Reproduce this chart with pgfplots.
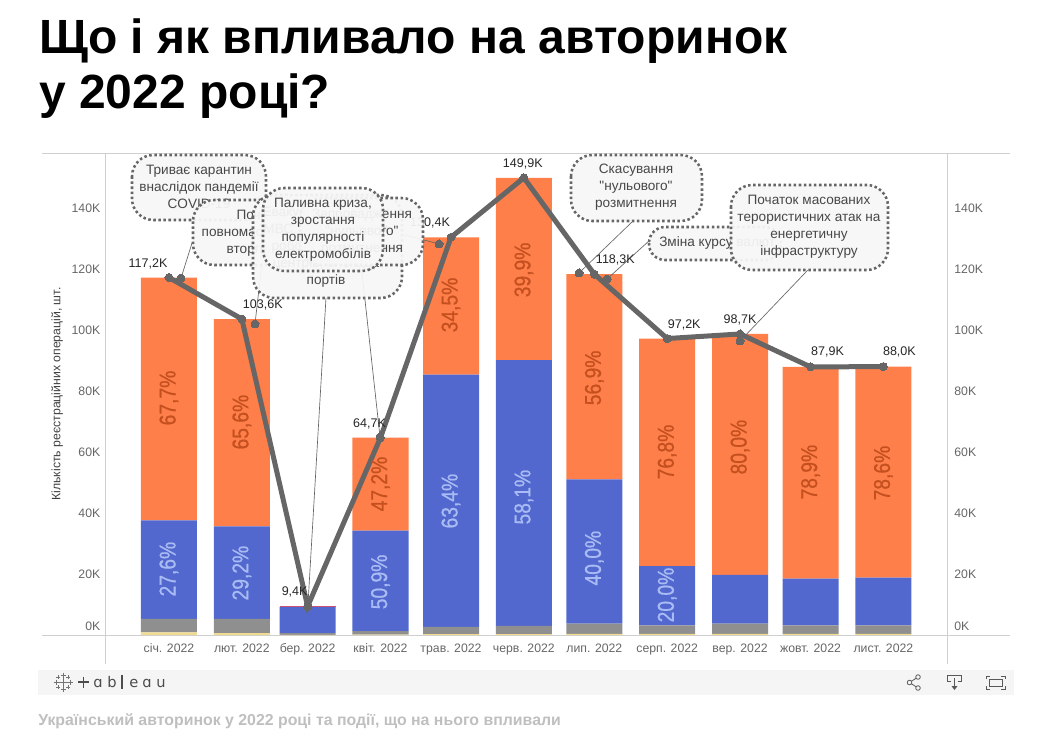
\documentclass[border=0pt]{standalone}
\usepackage{fontspec}
\usepackage{pgfplots}
\usepackage{pgfplotstable}
\pgfplotsset{compat=1.18}
\setmainfont{Liberation Sans}
\newfontfamily\pctfont[FakeStretch=0.84,FakeBold=0.7]{Liberation Sans}
\newfontfamily\calloutfont[Ligatures=ResetAll]{Liberation Sans}
\newfontfamily\logofont{DejaVu Sans}

\definecolor{cOrange}{HTML}{FF7F4A}
\definecolor{cBlue}{HTML}{5268CE}
\definecolor{cGray}{HTML}{8F8F8F}
\definecolor{cYellow}{HTML}{EFDC92}
\definecolor{cRed}{HTML}{D9506A}
\definecolor{cLine}{HTML}{666666}
\definecolor{cRule}{HTML}{CFCFCF}
\definecolor{cTick}{HTML}{666666}
\definecolor{cPctOrange}{HTML}{C4501F}
\definecolor{cPctBlue}{HTML}{A9BBF4}

% values in thousands, x = days from 1 January (the axis is a time axis)
\pgfplotstableread{
x   yellow gray blue orange red
0   0.9 4.4 32.3 79.6 0
31  0.6 4.7 30.3 68.0 0
59  0.05 0.55 8.65 0 0.15
90  0.1 1.2 32.9 30.5 0
120 0.3 2.4 82.7 45.0 0
151 0.3 2.7 87.1 59.8 0
181 0.4 3.3 47.3 67.3 0
212 0.4 2.8 19.4 74.6 0
243 0.4 3.3 16.0 79.0 0
273 0.4 2.8 15.3 69.4 0
304 0.4 2.8 15.6 69.2 0
}\bardata

\pgfplotstableread{
x   y    lbl
0   77.7 67,7
31  69.8 65,6
90  49.5 47,2
120 108.2 34,5
151 119.7 39,9
181 84.3 56,9
212 60.0 76,8
243 61.6 80,0
273 53.4 78,9
304 53.1 78,6
}\pctorange

\pgfplotstableread{
x   y    lbl
0   21.6 27,6
31  20.3 29,2
90  17.4 50,9
120 43.9 63,4
151 45.2 58,1
181 25.2 40,0
212 13.1 20,0
}\pctblue

\pgfplotsset{
  base/.style={
    scale only axis, width=631.5pt, height=361.5pt,
    at={(78.75pt,-476.25pt)}, anchor=south west,
    xmin=-27.23, xmax=331.06, ymin=0, ymax=158.03,
    clip=false, axis line style={draw=none},
    major tick length=0pt,
    ytick={20,40,...,140},
    yticklabels={20K,40K,60K,80K,100K,120K,140K},
    extra y ticks={0}, extra y tick labels={0K},
    ticklabel style={font=\fontsize{9.2}{11}\selectfont, text=cTick},
  },
  pct/.style={draw=none, mark=none, nodes near coords={\pgfplotspointmeta\%},
    point meta=explicit symbolic,
    nodes near coords style={anchor=center, rotate=90,
      font=\pctfont\fontsize{17.2}{18}\selectfont, text=#1}},
  leader/.style={draw=cLine, line width=.5pt, mark=none, forget plot},
}

\begin{document}
\begin{tikzpicture}
\begin{scope}[x=.75pt,y=-.75pt]
  \useasboundingbox (0,0) rectangle (1050,744);
  \node[anchor=base west,inner sep=0,font=\fontsize{36}{38}\selectfont\bfseries] at (39,53) {Що і як впливало на авторинок};
  \node[anchor=base west,inner sep=0,font=\fontsize{36}{38}\selectfont\bfseries] at (39,108) {у 2022 році?};
  % chart frame
  \draw[cRule,line width=.75pt] (42,153.5)--(1010,153.5);
  \draw[cRule,line width=.75pt] (42,635)--(1010,635);
  \draw[cRule,line width=.75pt] (105.5,153.5)--(105.5,664);
  \draw[cRule,line width=.75pt] (947,153.5)--(947,664);
\end{scope}

\begin{axis}[base, ybar stacked, bar width=42pt,
    xtick={0,31,59,90,120,151,181,212,243,273,304},
    xticklabels={січ. 2022,лют. 2022,бер. 2022,квіт. 2022,трав. 2022,черв. 2022,лип. 2022,серп. 2022,вер. 2022,жовт. 2022,лист. 2022},
    xticklabel style={anchor=base,yshift=-12.75pt},
    yticklabel style={anchor=east,xshift=0pt},
    extra y tick style={yticklabel style={yshift=6.5pt,anchor=east,xshift=0pt}},
    ylabel={Кількість реєстраційних операцій, шт.},
    ylabel style={at={(axis description cs:-0.057,0.5)},anchor=center,
      font=\fontsize{9.2}{11}\selectfont,text=black!75},
  ]
  \addplot[fill=cYellow,draw=none] table[x=x,y=yellow] {\bardata};
  \addplot[fill=cGray,draw=none] table[x=x,y=gray] {\bardata};
  \addplot[fill=cBlue,draw=none] table[x=x,y=blue] {\bardata};
  \addplot[fill=cOrange,draw=none] table[x=x,y=orange] {\bardata};
  \addplot[fill=cRed,draw=none] table[x=x,y=red] {\bardata};
\end{axis}

\begin{axis}[base, hide x axis, axis y line*=right,
    yticklabel style={anchor=west,xshift=2pt},
    extra y tick style={yticklabel style={yshift=6.5pt,anchor=west,xshift=0pt}},
  ]
  \addplot[pct=cPctOrange] table[x=x,y=y,meta=lbl] {\pctorange};
  \addplot[pct=cPctBlue] table[x=x,y=y,meta=lbl] {\pctblue};
  \addplot[cLine,line width=3.75pt,mark=*,mark size=3pt,
    mark options={fill=cLine,draw=cLine,line width=0pt},
    point meta=explicit symbolic,
    visualization depends on={value \thisrow{dx}\as\dx},
    visualization depends on={value \thisrow{dy}\as\dy},
    nodes near coords={\pgfplotspointmeta K},
    nodes near coords style={anchor=center,inner sep=0,
      xshift=\dx*0.75pt,yshift=\dy*0.75pt,
      font=\fontsize{9.4}{11}\selectfont,text=black!85}]
    table[x=x,y=y,meta=lbl] {
x   y     lbl   dx  dy
0   117.2 117,2 -21 14
31  103.6 103,6 21  14
59  9.4   9,4   -13 14
90  64.7  64,7  -11 14
120 130.4 130,4 -21 14
151 149.9 149,9 -1  14
181 118.3 118,3 21  14
212 97.2  97,2  17  14
243 98.7  98,7  0   14
273 87.9  87,9  17  15
304 88.0  88,0  16  15
    };
  % callout leaders
  \addplot[leader] coordinates {(9.8,128.5)(5.1,117.0)};
  \addplot[leader] coordinates {(39.6,122.3)(36.6,102.0)};
  \addplot[leader] coordinates {(66.8,110.5)(59.1,9.5)};
  \addplot[leader] coordinates {(82.1,119.0)(89.8,64.9)};
  \addplot[leader] coordinates {(94.0,132.5)(114.9,128.2)};
  \addplot[leader] coordinates {(197.4,135.7)(174.5,118.7)};
  \addplot[leader] coordinates {(203.8,128.9)(186.4,116.7)};
  \addplot[leader] coordinates {(271.9,119.7)(243,96.4)};
  \addplot[only marks,mark=*,mark size=3pt,mark options={fill=cLine,draw=cLine,line width=0pt}]
    coordinates {(5.1,117.0)(36.6,102.0)(59.1,9.5)(89.8,64.9)(114.9,128.2)(174.5,118.7)(186.4,116.7)(243,96.4)};
\end{axis}

\begin{scope}[x=.75pt,y=-.75pt,
    bub/.style={draw=cLine,fill=black!3,fill opacity=.94,line width=1.9pt,
      dash pattern=on 1.9pt off 1.9pt,rounded corners=16pt},
    txt/.style={align=center,inner sep=0,text=black!72,
      font=\calloutfont\fontsize{10.2}{12.75}\selectfont}]
  % callouts, in stacking order
  \draw[bub] (132,155) rectangle (266,220);
  \node[txt] at (199,187) {Триває карантин\\внаслідок пандемії\\COVID-19};
  \draw[bub] (193,200) rectangle (331,265);
  \node[txt] at (262,233) {Початок\\повномасштабного\\вторгнення};
  \draw[bub] (253,195) rectangle (402,298);
  \node[txt] at (326,247) {Евакуація сервісних\\МВС, призупинення\\роботи сервісних\\центрів, блокада\\портів};
  \draw[bub] (300,198) rectangle (423,265);
  \node[txt] at (362,232) {Запровадження\\"нульового"\\розмитнення};
  \draw[bub] (263,188) rectangle (383,271);
  \node[txt] at (323,229.5) {Паливна криза,\\зростання\\популярності\\електромобілів};
  \draw[bub] (571,155) rectangle (702,221);
  \node[txt] at (636,187) {Скасування\\"нульового"\\розмитнення};
  \draw[bub,rounded corners=12pt] (649,227) rectangle (781,260);
  \node[txt,anchor=west] at (659,243) {Зміна курсу валют};
  \draw[bub] (731,185) rectangle (888,270);
  \node[txt] at (809,227) {Початок масованих\\терористичних атак на\\енергетичну\\інфраструктуру};

  % tableau toolbar
  \fill[black!4] (38,670) rectangle (1014,695);
  \begin{scope}[shift={(63,682)},draw=black!55,line width=.4pt]
    \foreach \a/\b/\r in {0/0/4.5,-7/0/2.5,7/0/2.5,0/-7/2.5,0/7/2.5,-5/-5/1.8,5/-5/1.8,-5/5/1.8,5/5/1.8}
      \draw (\a-\r,\b)--(\a+\r,\b) (\a,\b-\r)--(\a,\b+\r);
  \end{scope}
  \draw[black!70,line width=.9pt] (78,682)--(89,682) (83.5,676.5)--(83.5,687.5);
  \foreach \l/\p in {ɑ/98,b/112,e/134,ɑ/147,u/161}
    \node[anchor=base,inner sep=0,text=black!70,font=\logofont\fontsize{11}{12}\selectfont] at (\p,687) {\l};
  \draw[black!70,line width=.8pt] (122,675)--(122,689);
  % share icon
  \begin{scope}[draw=black!65,line width=.6pt]
    \draw (909.5,682.5)--(918,677) (909.5,682.5)--(918,688);
    \filldraw[fill=black!4] (909.5,682.5) circle (2.3) (918,677) circle (2.3) (918,688) circle (2.3);
    % download icon
    \draw (951,681)--(947.5,681)--(947.5,675)--(961.5,675)--(961.5,681)--(958,681);
    \draw (954.5,678)--(954.5,688);
    \fill[black!65] (951.5,686)--(957.5,686)--(954.5,690)--cycle;
    % fullscreen icon
    \draw (989,679)--(1002,679)--(1002,686)--(989,686)--cycle;
    \draw (986,679)--(986,676)--(990,676) (1001,676)--(1005,676)--(1005,679)
          (986,686)--(986,689)--(990,689) (1001,689)--(1005,689)--(1005,686);
  \end{scope}
  % caption
  \node[anchor=base west,inner sep=0,text=black!25,font=\fontsize{11.9}{13}\selectfont\bfseries] at (38,725) {Український авторинок у 2022 році та події, що на нього впливали};
\end{scope}
\end{tikzpicture}
\end{document}
